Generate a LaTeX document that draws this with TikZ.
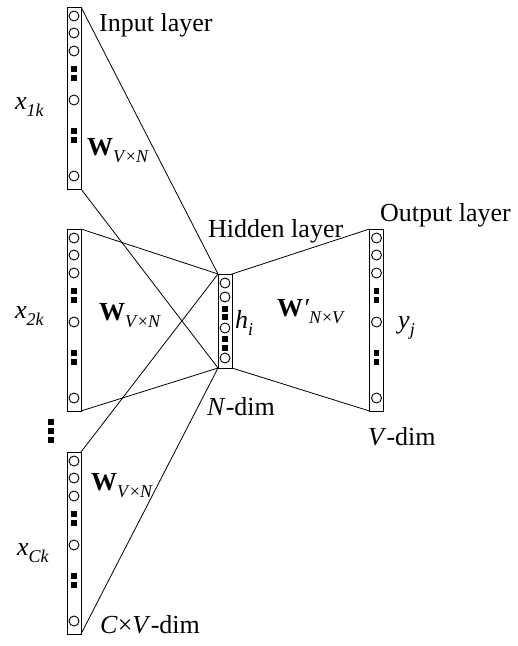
\documentclass[tikz,border=0pt]{standalone}
\usepackage{fontspec}
\setmainfont{Liberation Serif}
\usetikzlibrary{positioning,calc}
\newcommand{\lowsub}[1]{\raisebox{-7pt}{\fontsize{18}{18}\selectfont #1}}

\begin{document}
\begin{tikzpicture}[x=1pt,y=-1pt,
        layerbox/.style={rectangle, draw, line width=0.9pt, minimum width=14pt, minimum height=182pt, inner sep=0pt, outer sep=0pt},
        unitnode/.style={circle, draw, line width=0.9pt, minimum size=10pt, inner sep=0pt},
        dotnode/.style={rectangle, fill=black, minimum width=5.5pt, minimum height=6pt, inner sep=0pt},
        labelnode/.style={inner sep=0pt, anchor=base west, font=\fontsize{26}{30}\selectfont},
        ]
        \useasboundingbox (0,0) rectangle (518,646);
        %Nodes
        \node[layerbox] (in1) at (74,98) {};
        \node[layerbox] (in2) at (74,320) {};
        \node[layerbox] (in3) at (74,543) {};
        \node[layerbox] (out) at (376.5,320) {};
        \node[layerbox, minimum height=94pt] (hid) at (225,321) {};

        \foreach \b in {in1,in2,in3,out}{
            \foreach \d in {9,26,44,93,169} \node[unitnode] (\b-u\d) at ($(\b.north)+(0,\d)$) {};
            \foreach \d in {62,71,124,133} \node[dotnode] (\b-d\d) at ($(\b.north)+(0,\d)$) {};
        }
        \foreach \d in {9,23,54,84} \node[unitnode] (hid-u\d) at ($(hid.north)+(0,\d)$) {};
        \foreach \d in {35,43,65,74} \node[dotnode] (hid-d\d) at ($(hid.north)+(0,\d)$) {};

        \node[dotnode, minimum size=6pt] (skip1) at (51,422) {};
        \node[dotnode, minimum size=6pt] (skip2) at (51,431) {};
        \node[dotnode, minimum size=6pt] (skip3) at (51,440) {};

        %Connections
        \draw[line width=0.8pt] (in1.north east) -- (hid.north west);
        \draw[line width=0.8pt] (in1.south east) -- (hid.south west);
        \draw[line width=0.8pt] (in2.north east) -- (hid.north west);
        \draw[line width=0.8pt] (in2.south east) -- (hid.south west);
        \draw[line width=0.8pt] (in3.north east) -- (hid.north west);
        \draw[line width=0.8pt] (in3.south east) -- (hid.south west);
        \draw[line width=0.8pt] (hid.north east) -- (out.north west);
        \draw[line width=0.8pt] (hid.south east) -- (out.south west);

        %Labels
        \node[labelnode] (inputlabel) at (99,31) {Input layer};
        \node[labelnode] (hiddenlabel) at (208,237) {Hidden layer};
        \node[labelnode] (outputlabel) at (380,221) {Output layer};
        \node[labelnode] (ndim) at (207,415) {\textit{N}-dim};
        \node[labelnode] (vdim) at (368,445) {\textit{V}-dim};
        \node[labelnode] (cvdim) at (100,633) {\textit{C}×\textit{V}-dim};
        \node[labelnode] (x1) at (15,109) {\textit{x}\lowsub{\textit{1k}}};
        \node[labelnode] (x2) at (15,318) {\textit{x}\lowsub{\textit{2k}}};
        \node[labelnode] (xc) at (17,555) {\textit{x}\lowsub{\textit{Ck}}};
        \node[labelnode] (w1) at (87,155) {\textbf{W}\lowsub{\textit{V}×\textit{N}}};
        \node[labelnode] (w2) at (99,320) {\textbf{W}\lowsub{\textit{V}×\textit{N}}};
        \node[labelnode] (w3) at (91,490) {\textbf{W}\lowsub{\textit{V}×\textit{N}}};
        \node[labelnode] (wout) at (277,316) {\textbf{W}\textit{′}\lowsub{\textit{N}×\textit{V}}};
        \node[labelnode] (hi) at (235,328) {\textit{h}\lowsub{\textit{i}}};
        \node[labelnode] (yj) at (398,328) {\textit{y}\lowsub{\textit{j}}};
\end{tikzpicture}
\end{document}
